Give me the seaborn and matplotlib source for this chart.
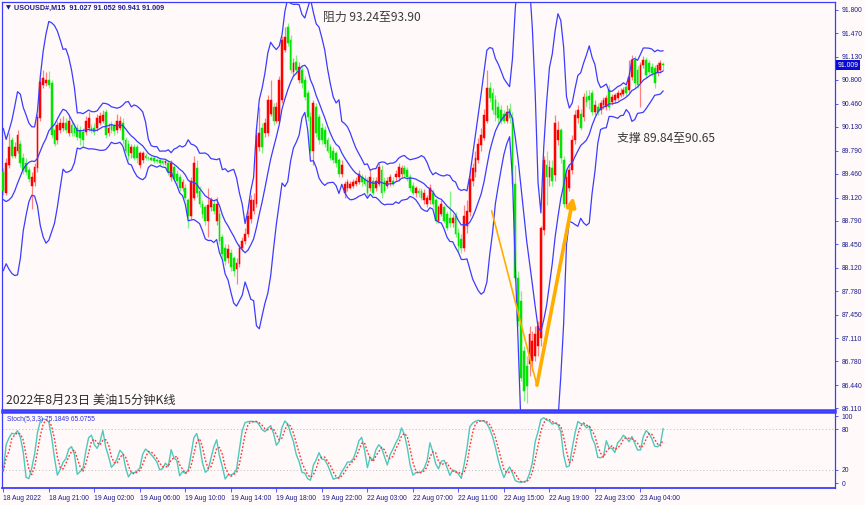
import numpy as np
import pandas as pd
import matplotlib
matplotlib.use("Agg")
import matplotlib.pyplot as plt
import seaborn as sns
from matplotlib import transforms

sns.set_theme(style="white")
plt.rcParams["font.family"] = ["DejaVu Sans"]
CJK = ["Noto Sans CJK SC", "DejaVu Sans"]
SMALL = ["Liberation Sans", "DejaVu Sans"]

# ---------------- data (USOUSD#, M15) ----------------
open_ = [89.48, 89.19, 89.58, 89.94, 89.72, 89.79, 89.89, 89.69, 89.62, 89.51,
         89.29, 89.34, 89.54, 90.25, 90.73, 90.75, 90.80, 90.75, 90.08, 89.94,
         90.08, 90.11, 90.19, 90.04, 90.15, 90.12, 90.11, 90.08, 90.05, 90.05,
         90.11, 90.12, 90.12, 90.11, 90.19, 90.22, 90.34, 90.04, 90.15, 90.14,
         90.08, 90.12, 90.19, 89.94, 89.89, 89.75, 89.84, 89.84, 89.58, 89.65,
         89.72, 89.69, 89.69, 89.68, 89.66, 89.65, 89.64, 89.61, 89.62, 89.41,
         89.55, 89.46, 89.41, 89.25, 89.26, 89.08, 88.86, 89.12, 89.54, 89.22,
         89.03, 88.98, 88.79, 88.98, 89.03, 88.79, 88.89, 88.55, 88.40, 88.25,
         88.33, 88.25, 88.10, 88.17, 88.40, 88.50, 88.60, 88.82, 88.93, 89.03,
         89.84, 90.12, 90.04, 90.04, 90.32, 90.41, 90.22, 90.22, 90.51, 91.23,
         91.56, 91.37, 90.91, 91.05, 90.80, 90.94, 90.80, 90.61, 90.27, 89.79,
         90.41, 90.27, 90.12, 90.08, 89.94, 89.84, 89.79, 89.75, 89.65, 89.46,
         89.18, 89.26, 89.26, 89.29, 89.32, 89.34, 89.41, 89.39, 89.36, 89.26,
         89.36, 89.26, 89.32, 89.51, 89.36, 89.29, 89.34, 89.36, 89.41, 89.41,
         89.46, 89.54, 89.51, 89.41, 89.29, 89.18, 89.22, 89.22, 89.08, 89.03,
         89.08, 89.19, 89.08, 88.79, 88.89, 88.98, 88.89, 88.83, 88.75, 88.86,
         88.62, 88.53, 88.40, 88.72, 88.91, 89.36, 89.48, 89.65, 89.87, 89.97,
         90.22, 90.68, 90.61, 90.51, 90.41, 90.37, 90.32, 90.22, 90.39, 90.25,
         89.32, 87.97, 87.64, 86.93, 86.71, 86.74, 86.78, 86.86, 87.00, 87.11,
         88.65, 89.58, 89.41, 89.54, 89.44, 89.94, 90.08, 89.65, 89.03, 89.26,
         89.51, 89.94, 90.25, 90.32, 90.27, 90.55, 90.57, 90.61, 90.34, 90.41,
         90.37, 90.44, 90.41, 90.65, 90.48, 90.51, 90.54, 90.58, 90.60, 90.70,
         90.65, 90.84, 91.08, 90.94, 90.75, 91.01, 91.08, 91.04, 90.98, 90.97,
         90.90, 90.94, 91.027]
high = [89.54, 89.68, 90.04, 89.98, 89.91, 90.08, 89.94, 89.75, 89.68, 89.56,
        89.48, 89.61, 90.32, 90.83, 90.94, 90.91, 90.93, 90.80, 90.15, 90.22,
        90.25, 90.28, 90.25, 90.28, 90.21, 90.18, 90.17, 90.14, 90.11, 90.28,
        90.34, 90.17, 90.18, 90.31, 90.34, 90.37, 90.39, 90.18, 90.21, 90.19,
        90.32, 90.28, 90.25, 89.98, 89.94, 89.88, 89.89, 89.88, 89.79, 89.79,
        89.75, 89.72, 89.72, 89.71, 89.69, 89.68, 89.66, 89.66, 89.65, 89.65,
        89.59, 89.51, 89.45, 89.38, 89.31, 89.12, 89.42, 89.72, 89.65, 89.28,
        89.08, 89.02, 89.26, 89.13, 89.09, 89.13, 88.96, 88.60, 88.46, 88.45,
        88.39, 88.29, 88.25, 88.46, 88.56, 88.68, 88.93, 89.15, 89.19, 90.11,
        90.41, 90.19, 90.25, 90.58, 90.80, 90.47, 90.48, 90.85, 91.43, 91.56,
        91.61, 91.44, 91.11, 91.15, 91.05, 91.00, 90.85, 90.65, 90.34, 90.51,
        90.47, 90.32, 90.18, 90.14, 89.98, 89.89, 89.84, 89.79, 89.69, 89.65,
        89.36, 89.38, 89.36, 89.38, 89.41, 89.51, 89.45, 89.44, 89.41, 89.51,
        89.41, 89.42, 89.61, 89.58, 89.42, 89.42, 89.46, 89.41, 89.51, 89.61,
        89.58, 89.58, 89.55, 89.45, 89.34, 89.29, 89.26, 89.26, 89.24, 89.16,
        89.31, 89.24, 89.12, 89.02, 89.08, 89.02, 88.93, 89.22, 88.88, 88.91,
        88.68, 88.60, 89.01, 89.08, 89.51, 89.61, 89.79, 89.97, 90.11, 90.39,
        90.94, 90.77, 90.68, 90.58, 90.48, 90.44, 90.37, 90.44, 90.47, 90.34,
        89.58, 88.07, 87.79, 87.00, 86.86, 87.29, 87.21, 87.29, 87.36, 88.72,
        89.72, 89.79, 89.65, 89.65, 90.30, 90.22, 90.12, 89.72, 89.51, 89.58,
        90.01, 90.37, 90.44, 90.39, 90.61, 90.65, 90.65, 90.65, 90.51, 90.47,
        90.51, 90.55, 90.58, 90.73, 90.60, 90.62, 90.65, 90.68, 90.70, 90.74,
        91.08, 91.15, 91.14, 91.00, 91.05, 91.14, 91.13, 91.08, 91.04, 91.01,
        91.05, 91.08, 91.052]
low = [89.15, 89.16, 89.54, 89.68, 89.68, 89.75, 89.56, 89.46, 89.44, 89.34,
       88.96, 89.29, 89.49, 90.21, 90.68, 90.71, 90.68, 89.97, 89.85, 89.89,
       90.04, 90.07, 90.04, 90.00, 90.00, 90.00, 89.94, 89.87, 89.84, 90.01,
       90.07, 90.04, 90.01, 90.07, 90.15, 90.18, 89.97, 90.00, 90.04, 90.02,
       90.04, 90.08, 89.89, 89.75, 89.65, 89.69, 89.65, 89.62, 89.54, 89.61,
       89.65, 89.65, 89.64, 89.61, 89.61, 89.59, 89.58, 89.58, 89.44, 89.36,
       89.35, 89.32, 89.22, 89.21, 89.08, 88.68, 88.82, 89.08, 89.13, 88.98,
       88.83, 88.73, 88.55, 88.93, 88.89, 88.73, 88.45, 88.26, 88.16, 88.19,
       88.07, 88.00, 87.89, 88.13, 88.36, 88.46, 88.56, 88.76, 88.89, 88.99,
       89.79, 89.76, 89.98, 90.00, 90.28, 90.15, 90.18, 90.18, 90.47, 91.20,
       91.28, 90.90, 90.85, 90.88, 90.75, 90.68, 90.51, 90.22, 89.75, 89.58,
       89.98, 89.89, 89.88, 89.84, 89.75, 89.65, 89.61, 89.55, 89.41, 89.42,
       89.12, 89.22, 89.24, 89.26, 89.28, 89.31, 89.29, 89.28, 89.13, 89.22,
       89.15, 89.22, 89.28, 89.12, 89.18, 89.25, 89.29, 89.28, 89.36, 89.36,
       89.42, 89.42, 89.36, 89.22, 89.15, 89.13, 89.13, 89.08, 89.03, 88.99,
       89.03, 88.99, 88.75, 88.75, 88.85, 88.75, 88.65, 88.70, 88.70, 88.56,
       88.36, 88.33, 88.36, 88.62, 88.86, 89.29, 89.42, 89.61, 89.79, 89.94,
       90.19, 90.48, 90.31, 90.22, 90.19, 90.17, 90.18, 90.18, 90.19, 89.28,
       87.93, 87.29, 86.50, 86.21, 86.19, 86.57, 86.64, 86.78, 86.86, 87.00,
       88.58, 89.01, 89.29, 89.29, 89.36, 89.87, 89.62, 88.98, 88.99, 89.22,
       89.46, 89.89, 90.19, 90.08, 90.22, 90.42, 90.39, 90.30, 90.30, 90.30,
       90.32, 90.39, 90.37, 90.37, 90.44, 90.47, 90.51, 90.55, 90.57, 90.57,
       90.61, 90.80, 90.68, 90.68, 90.41, 90.97, 90.83, 90.87, 90.85, 90.68,
       90.85, 90.91, 90.941]
close = [89.22, 89.61, 89.84, 89.72, 89.84, 90.01, 89.61, 89.51, 89.48, 89.39,
         89.41, 89.55, 90.27, 90.77, 90.83, 90.80, 90.73, 90.01, 89.89, 90.15,
         90.18, 90.19, 90.08, 90.22, 90.04, 90.04, 89.98, 89.97, 89.94, 90.22,
         90.25, 90.08, 90.05, 90.25, 90.28, 90.30, 90.01, 90.12, 90.08, 90.07,
         90.22, 90.22, 89.94, 89.79, 89.72, 89.84, 89.69, 89.68, 89.75, 89.75,
         89.68, 89.68, 89.66, 89.64, 89.64, 89.62, 89.61, 89.64, 89.48, 89.61,
         89.39, 89.36, 89.26, 89.34, 89.12, 88.86, 89.36, 89.61, 89.18, 89.03,
         88.89, 88.79, 89.01, 89.08, 88.93, 89.03, 88.50, 88.32, 88.22, 88.39,
         88.13, 88.07, 88.19, 88.40, 88.50, 88.60, 88.86, 89.08, 89.08, 90.01,
         90.04, 89.84, 90.18, 90.51, 90.51, 90.22, 90.41, 90.80, 91.37, 91.41,
         91.33, 90.94, 91.04, 90.94, 90.98, 90.75, 90.55, 90.27, 89.79, 90.47,
         90.04, 89.94, 89.94, 89.89, 89.79, 89.69, 89.65, 89.61, 89.46, 89.58,
         89.32, 89.34, 89.32, 89.34, 89.36, 89.46, 89.34, 89.32, 89.18, 89.41,
         89.19, 89.36, 89.55, 89.18, 89.22, 89.36, 89.41, 89.32, 89.46, 89.55,
         89.54, 89.46, 89.41, 89.26, 89.19, 89.25, 89.18, 89.12, 89.19, 89.12,
         89.26, 89.03, 88.79, 88.98, 89.03, 88.79, 88.69, 88.75, 88.83, 88.60,
         88.43, 88.40, 88.86, 88.93, 89.39, 89.54, 89.68, 89.89, 90.01, 90.30,
         90.68, 90.54, 90.37, 90.30, 90.25, 90.22, 90.22, 90.34, 90.25, 89.32,
         87.97, 87.36, 86.54, 86.36, 86.43, 87.17, 87.07, 87.17, 87.29, 88.69,
         89.65, 89.41, 89.55, 89.36, 90.19, 90.08, 89.69, 89.03, 89.41, 89.51,
         89.94, 90.30, 90.37, 90.12, 90.55, 90.48, 90.51, 90.34, 90.44, 90.34,
         90.47, 90.51, 90.54, 90.41, 90.55, 90.58, 90.61, 90.62, 90.65, 90.61,
         90.84, 91.08, 90.75, 90.73, 91.01, 91.08, 90.87, 90.91, 90.90, 90.75,
         91.01, 91.04, 91.009]
# closes before the first visible bar (only feed the band calculation)
prior_close = [89.90, 89.60, 89.30, 89.00, 88.90, 88.60, 88.50, 88.90, 89.00]

price_ticks = [91.800, 91.470, 91.130, 90.800, 90.460, 90.130, 89.790, 89.460, 89.120,
               88.790, 88.450, 88.120, 87.780, 87.450, 87.110, 86.780, 86.440, 86.110]
date_labels = ["18 Aug 2022", "18 Aug 21:00", "19 Aug 02:00", "19 Aug 06:00", "19 Aug 10:00",
               "19 Aug 14:00", "19 Aug 18:00", "19 Aug 22:00", "22 Aug 03:00", "22 Aug 07:00",
               "22 Aug 11:00", "22 Aug 15:00", "22 Aug 19:00", "22 Aug 23:00", "23 Aug 04:00"]
date_step = 16
stoch_ticks = [0, 20, 80, 100]
last_price = 91.009
# V-shaped hand-drawn marker (bar index, price)
v_points_x = [171.7, 187.6, 200.4]
v_points_y = [88.93, 86.44, 89.13]

bb_period, bb_dev = 10, 2.5
k_period, slowing, d_period = 5, 3, 3

# ---------------- calculations ----------------
o = np.array(open_); h = np.array(high); l = np.array(low); c = np.array(close)
n = len(c)
idx = np.arange(n)
allc = pd.Series(prior_close + close)
np_ = len(prior_close)
mid = allc.rolling(bb_period).mean().to_numpy()[np_:]
sd = allc.rolling(bb_period).std(ddof=0).to_numpy()[np_:]
upper = mid + bb_dev * sd
lower = mid - bb_dev * sd

hh = pd.Series(h).rolling(k_period, min_periods=1).max()
ll = pd.Series(l).rolling(k_period, min_periods=1).min()
num = (pd.Series(c) - ll).rolling(slowing, min_periods=1).sum()
den = (hh - ll).rolling(slowing, min_periods=1).sum()
stoch_k = (100 * num / den).to_numpy()
stoch_d = pd.Series(stoch_k).rolling(d_period, min_periods=1).mean().to_numpy()

# ---------------- figure ----------------
BG = "#fffaf9"
BLUE = "#3c3cff"
NAVY = "#1c1c8c"
W, H = 865, 505
fig = plt.figure(figsize=(W / 100, H / 100), dpi=100, facecolor=BG)
ax = fig.add_axes([2 / W, 1 - 409.5 / H, 833 / W, 407.5 / H], facecolor=BG)
ax2 = fig.add_axes([2 / W, 1 - 488.3 / H, 833 / W, (488.3 - 411.7) / H], facecolor=BG)

xlim = (-0.46, 292.4)

# candles: red = up, green = down
is_up = c >= o
body_col = np.where(is_up, "#ff0000", "#00e600")
wick_col = np.where(is_up, "#ff8080", "#80f080")
ax.vlines(idx, l, h, colors=wick_col, lw=0.9, zorder=2)
ax.bar(idx, np.abs(c - o), bottom=np.minimum(o, c), width=0.62, color=body_col,
       edgecolor=body_col, linewidth=0.35, zorder=3)

# bollinger-type bands
for band in (upper, mid, lower):
    sns.lineplot(x=idx, y=band, ax=ax, color=BLUE, lw=0.9, zorder=4, legend=False)

ax.set_xlim(*xlim)
ax.set_ylim(86.093, 91.914)
ax.yaxis.tick_right()
ax.set_yticks(price_ticks)
ax.set_yticklabels([f"{t:.3f}" for t in price_ticks], family=SMALL)
ax.tick_params(axis="y", which="both", right=True, length=2.5, width=0.6, color=BLUE,
               labelsize=4.9, labelcolor=NAVY, pad=2)
ax.set_xticks([])
ax.set_xlabel(""); ax.set_ylabel("")
for s in ax.spines.values():
    s.set_color(BLUE); s.set_linewidth(0.9)
ax.spines["bottom"].set_linewidth(1.8)

# current price tag
tr = transforms.blended_transform_factory(ax.transAxes, ax.transData)
ax.text(1.003, last_price, f"{last_price:.3f}", transform=tr, ha="left", va="center",
        fontsize=4.9, color="white", family=SMALL,
        bbox=dict(boxstyle="square,pad=0.2", fc="#0a0ad0", ec="none"), zorder=10, clip_on=False)

# header text
ax.text(0.005, 0.992, "\u25bc", transform=ax.transAxes, ha="left", va="top", fontsize=4.6,
        color=NAVY)
ax.text(0.0145, 0.992, "USOUSD#,M15  91.027 91.052 90.941 91.009", transform=ax.transAxes,
        ha="left", va="top", fontsize=5.2, color=NAVY, family=SMALL, fontweight="bold")

# annotations
ax.text(0.3855, 0.963, "阻力 93.24至93.90", transform=ax.transAxes, ha="left", va="center",
        fontsize=8.6, color="#3a3a3a", family=CJK)
ax.text(0.7385, 0.664, "支撑 89.84至90.65", transform=ax.transAxes, ha="left", va="center",
        fontsize=8.6, color="#3a3a3a", family=CJK)
ax.text(0.0045, 0.0235, "2022年8月23日 美油15分钟K线", transform=ax.transAxes, ha="left",
        va="center", fontsize=8.8, color="#2e2e2e", family=CJK)

ORANGE = "#ffae00"
ax.plot(v_points_x[:2], v_points_y[:2], color=ORANGE, lw=1.2, zorder=6, solid_capstyle="round")
ax.annotate("", xy=(v_points_x[2], v_points_y[2]), xytext=(v_points_x[1], v_points_y[1]),
            arrowprops=dict(arrowstyle="-|>,head_width=0.22,head_length=0.45", color=ORANGE,
                            lw=2.6, shrinkA=0, shrinkB=0), zorder=6)

# ---------------- stochastic panel ----------------
ax2.axhline(80, color="#c4c4c4", lw=0.7, ls=(0, (1.2, 2.2)), zorder=1)
ax2.axhline(20, color="#c4c4c4", lw=0.7, ls=(0, (1.2, 2.2)), zorder=1)
sns.lineplot(x=idx, y=stoch_k, ax=ax2, color="#4ec8bc", lw=1.0, zorder=3, legend=False)
sns.lineplot(x=idx, y=stoch_d, ax=ax2, color="#ff3838", lw=1.0, zorder=4, legend=False,
             linestyle=(0, (1.3, 1.3)))
ax2.set_xlim(*xlim)
ax2.set_ylim(-7.4, 106.4)
ax2.yaxis.tick_right()
ax2.set_yticks(stoch_ticks)
ax2.set_yticklabels([str(t) for t in stoch_ticks], family=SMALL)
ax2.tick_params(axis="y", right=True, length=2.5, width=0.6, color=BLUE, labelsize=4.9,
                labelcolor=NAVY, pad=2)
date_pos = np.arange(len(date_labels)) * date_step
ax2.set_xticks(date_pos)
ax2.set_xticklabels(date_labels, ha="left", family=SMALL)
ax2.tick_params(axis="x", bottom=True, length=3, width=0.6, color=BLUE, labelsize=4.9,
                labelcolor=NAVY, pad=1.5)
ax2.set_xlabel(""); ax2.set_ylabel("")
for s in ax2.spines.values():
    s.set_color(BLUE); s.set_linewidth(0.9)
ax2.spines["top"].set_linewidth(1.8)
ax2.spines["bottom"].set_linewidth(1.3)
ax2.text(0.006, 0.9, f"Stoch({k_period},{slowing},{d_period}) 75.1849 65.0755",
         transform=ax2.transAxes, ha="left", va="center", fontsize=4.8, color="#3030e0",
         family=SMALL)

fig.savefig("out.png", dpi=100, facecolor=BG)
